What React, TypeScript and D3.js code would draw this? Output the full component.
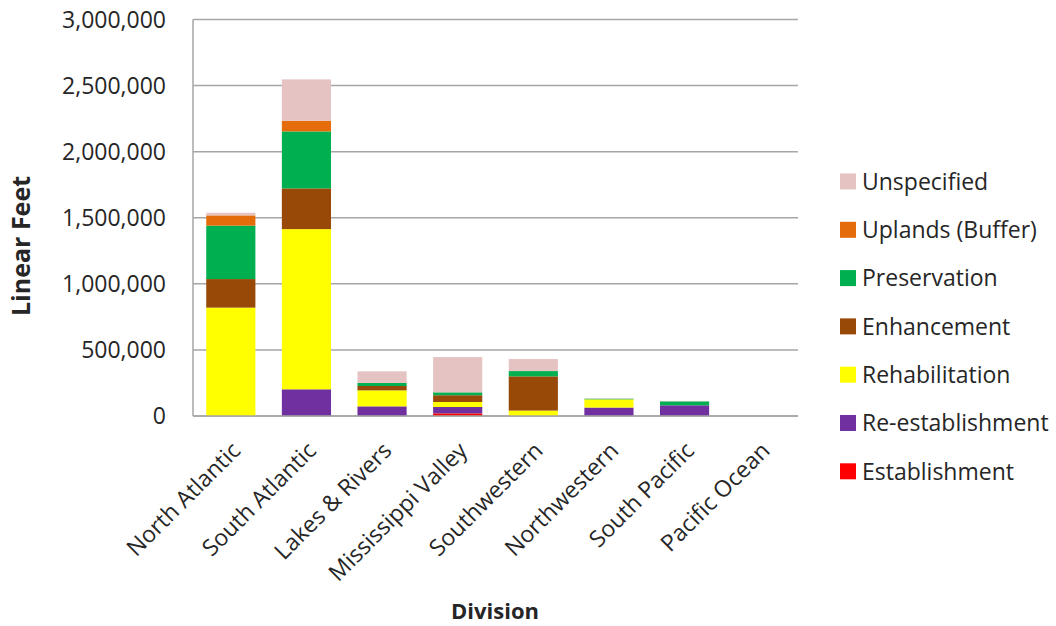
import React from "react";
import * as d3 from "d3";

const categories = ["North Atlantic", "South Atlantic", "Lakes & Rivers", "Mississippi Valley", "Southwestern", "Northwestern", "South Pacific", "Pacific Ocean"];

const seriesNames = ["Establishment", "Re-establishment", "Rehabilitation", "Enhancement", "Preservation", "Uplands (Buffer)", "Unspecified"];
const seriesColors = ["#FF0000", "#7030A0", "#FFFF00", "#984807", "#00B050", "#E46C0A", "#E6C3C3"];

const establishment = [0, 0, 0, 20000, 0, 0, 0, 0];
const reEstablishment = [0, 202000, 73000, 48000, 0, 64000, 81000, 0];
const rehabilitation = [820000, 1212000, 121000, 38000, 41000, 62000, 0, 0];
const enhancement = [216000, 308000, 33000, 51000, 259000, 0, 0, 0];
const preservation = [404000, 431000, 23000, 22000, 40000, 5000, 30000, 0];
const uplands = [78000, 81000, 0, 0, 0, 0, 0, 0];
const unspecified = [20000, 313000, 88000, 267000, 91000, 3000, 3000, 0];

const yTicks = [0, 500000, 1000000, 1500000, 2000000, 2500000, 3000000];

const seriesValues = [establishment, reEstablishment, rehabilitation, enhancement, preservation, uplands, unspecified];

const FONT = "'Open Sans', 'Liberation Sans', sans-serif";

export default function App() {
  const left = 193, right = 798, top = 19.5, bottom = 416;
  const x = d3.scaleBand<string>().domain(categories).range([left, right]).paddingInner(0.35).paddingOuter(0.175);
  const y = d3.scaleLinear().domain([0, 3000000]).range([bottom, top]);
  const fmt = d3.format(",");

  const table = categories.map((c, i) => {
    const row: any = { cat: c };
    seriesNames.forEach((s, k) => (row[s] = seriesValues[k][i]));
    return row;
  });
  const stack = d3.stack<any>().keys(seriesNames)(table);

  const legendOrder = [...seriesNames].reverse();

  return (
    <svg width={1056} height={626} style={{ display: "block", position: "absolute", left: 0, top: 0 }} fontFamily={FONT}>
      <rect x={0} y={0} width={1056} height={626} fill="#fff" />
      {yTicks.map((t) => (
        <g key={t}>
          <line x1={left} x2={right} y1={y(t)} y2={y(t)} stroke="#A6A6A6" strokeWidth={1.5} />
          <text x={166} y={y(t)} dy="0.36em" textAnchor="end" fontSize={23} fill="#262626">{fmt(t)}</text>
        </g>
      ))}
      <line x1={left} x2={left} y1={top} y2={bottom} stroke="#A6A6A6" strokeWidth={1.5} />
      {stack.map((layer, k) => (
        <g key={seriesNames[k]} fill={seriesColors[k]}>
          {layer.map((d, i) => {
            const h = y(d[0]) - y(d[1]);
            if (h <= 0) return null;
            return <rect key={i} x={x(categories[i])} width={x.bandwidth()} y={y(d[1])} height={h} />;
          })}
        </g>
      ))}
      <line x1={left} x2={right} y1={bottom} y2={bottom} stroke="#A6A6A6" strokeWidth={1.5} />
      {categories.map((c) => {
        const cx = (x(c) as number) + x.bandwidth() / 2 + 11;
        const cy = bottom + 36;
        return (
          <text key={c} x={cx} y={cy} textAnchor="end" fontSize={23} fill="#262626" transform={`rotate(-45, ${cx}, ${cy})`}>{c}</text>
        );
      })}
      <text transform={`translate(30, 246) rotate(-90)`} textAnchor="middle" fontSize={25} fontWeight="bold" fill="#262626">Linear Feet</text>
      <text x={495} y={619} textAnchor="middle" fontSize={22} fontWeight="bold" fill="#262626">Division</text>
      {legendOrder.map((s, i) => {
        const k = seriesNames.indexOf(s);
        const ly = 181.5 + i * 48.3;
        return (
          <g key={s}>
            <rect x={840} y={ly - 8} width={16} height={16} fill={seriesColors[k]} />
            <text x={862} y={ly} dy="0.36em" fontSize={23} fill="#262626">{s}</text>
          </g>
        );
      })}
    </svg>
  );
}
